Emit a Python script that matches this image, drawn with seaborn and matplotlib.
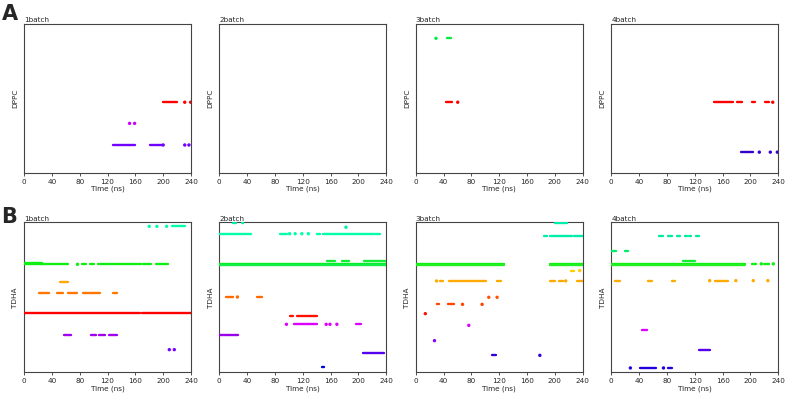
import matplotlib
matplotlib.use("Agg")
import matplotlib.pyplot as plt
import seaborn as sns
import pandas as pd

# ---------------- data ----------------
batches = ["1batch", "2batch", "3batch", "4batch"]
x_ticks = [0, 40, 80, 120, 160, 200, 240]

# each track: residue level (0-1), colour, contact intervals (start, end) in ns
A1_levels = [0.475, 0.333, 0.188]
A1_colors = ["#ff0000", "#cc00ff", "#7000ff"]
A1_spans = [
    [(200, 220), (231, 231), (239.5, 239.5)],
    [(151.7, 151.7), (159, 159)],
    [(128.6, 159.4), (180.5, 198), (200, 200), (231, 231), (237, 237)],
]

A2_levels = []
A2_colors = []
A2_spans = []

A3_levels = [0.904, 0.475]
A3_colors = ["#00ee44", "#ff0000"]
A3_spans = [
    [(29.2, 29.2), (44.6, 50.5)],
    [(43, 52.4), (60.4, 60.4)],
]

A4_levels = [0.475, 0.14]
A4_colors = ["#ff0000", "#3300cc"]
A4_spans = [
    [(148, 175.4), (180, 187.8), (202, 207), (221, 226), (232, 232)],
    [(185.9, 203), (212.7, 212.7), (228.5, 228.5), (238.6, 238.6)],
]

B1_levels = [0.973, 0.726, 0.72, 0.602, 0.527, 0.393, 0.249, 0.151]
B1_colors = ["#00ffaa", "#11ee11", "#11ee11", "#ffaa00", "#ff7700", "#ff0000", "#a000ee", "#7700ff"]
B1_spans = [
    [(180, 180), (191, 191), (205, 205), (212, 232)],
    [(0, 25.4)],
    [(0, 25.4), (25, 63), (76.8, 76.8), (83, 89), (95, 101), (106, 168), (171, 183), (189, 207)],
    [(52, 63)],
    [(21.6, 36), (47, 55.7), (63, 76), (84.5, 109.4), (128, 134)],
    [(0, 167), (169, 240)],
    [(58, 67.7), (96, 103.7), (107.5, 117), (121.5, 133.5)],
    [(208.8, 208.8), (216, 216)],
]

B2_levels = [0.998, 0.967, 0.924, 0.744, 0.725, 0.715, 0.502, 0.378, 0.32, 0.251, 0.127, 0.038]
B2_colors = ["#00eeaa", "#00eeaa", "#00ffaa", "#11ee33", "#00ee22", "#11ee44", "#ff6a00",
             "#ff1100", "#dd00ff", "#9900ee", "#5500ee", "#0000dd"]
B2_spans = [
    [(19, 24), (33.6, 33.6)],
    [(182, 182)],
    [(0, 45), (87, 97), (101, 101), (109, 109), (118.6, 118.6), (128, 128), (140, 144),
     (149, 224), (225.6, 231)],
    [(154.6, 166.6), (176, 185.8), (208, 240)],
    [(0, 240)],
    [(0, 240)],
    [(9.6, 20), (26, 26), (54.7, 61.4)],
    [(102, 106.6), (111, 140)],
    [(96.5, 96.5), (108, 140), (153.6, 153.6), (159, 159), (169, 169), (197, 203.5)],
    [(0, 26.4)],
    [(207, 237)],
    [(147, 151)],
]

B3_levels = [0.998, 0.909, 0.72, 0.714, 0.678, 0.609, 0.5, 0.453, 0.391, 0.313, 0.211, 0.113]
B3_colors = ["#00eeaa", "#00eeaa", "#11ee11", "#22ee22", "#ffcc00", "#ffaa00", "#ff5500",
             "#ff4400", "#ff1100", "#dd00ff", "#8800ff", "#3300dd"]
B3_spans = [
    [(200, 218)],
    [(183.7, 188.4), (193, 225), (227.6, 240)],
    [(0, 126.4), (192.7, 240)],
    [(0, 126.4), (192.7, 240)],
    [(222.8, 227.6), (235.7, 235.7)],
    [(30, 30), (34.8, 39.6), (48, 101), (116.4, 122.6), (192.3, 200), (206, 212),
     (215.6, 215.6), (232, 240)],
    [(105, 105), (117, 117)],
    [(31, 33.4), (46, 55.6), (67.3, 67.3), (95.4, 95.4)],
    [(13.8, 13.8)],
    [(76.3, 76.3)],
    [(27, 27)],
    [(109, 115.5), (178.4, 178.4)],
]

B4_levels = [0.909, 0.809, 0.744, 0.723, 0.717, 0.611, 0.284, 0.147, 0.029]
B4_colors = ["#00ee99", "#00ee66", "#11ee33", "#11ee11", "#22ee22", "#ffaa00", "#dd00ff",
             "#5500ee", "#2200dd"]
B4_spans = [
    [(68.8, 75), (82, 87), (93.8, 98.6), (106, 109), (111, 114.5), (121.7, 125.5)],
    [(0, 6.7), (19, 24)],
    [(102.5, 120.7)],
    [(0, 192.4), (201.5, 207.8), (215.5, 215.5), (220, 226), (232.8, 232.8)],
    [(0, 192.4)],
    [(4.8, 12), (53.4, 59), (87, 91.4), (141.4, 141.4), (149.6, 167.4), (179, 179),
     (204, 204), (225, 225)],
    [(44.7, 51)],
    [(125.5, 142.4)],
    [(27.4, 27.4), (41, 64), (75, 75), (81, 87)],
]

rows = [
    ("DPPC", [(A1_levels, A1_colors, A1_spans), (A2_levels, A2_colors, A2_spans),
              (A3_levels, A3_colors, A3_spans), (A4_levels, A4_colors, A4_spans)]),
    ("TDHA", [(B1_levels, B1_colors, B1_spans), (B2_levels, B2_colors, B2_spans),
              (B3_levels, B3_colors, B3_spans), (B4_levels, B4_colors, B4_spans)]),
]

# ---------------- plot ----------------
sns.set_style("white")
plt.rcParams["font.family"] = ["DejaVu Sans"]

W, H = 789, 398
fig = plt.figure(figsize=(W / 100, H / 100), dpi=100)

lefts = [24, 219.3, 415.7, 611.3]
width = 167
row_box = [(24, 173), (222.3, 372.3)]  # top, bottom in pixels
LW = 1.7
FS = 5.2

for r, (ylab, panels) in enumerate(rows):
    top, bottom = row_box[r]
    for c, (levels, colors, spans) in enumerate(panels):
        ax = fig.add_axes([lefts[c] / W, 1 - bottom / H, width / W, (bottom - top) / H])
        dots = []
        for lev, col, iv in zip(levels, colors, spans):
            for s, e in iv:
                if e - s < 0.8:
                    dots.append({"t": s, "y": lev, "c": col})
                else:
                    ax.hlines(lev, s, e, colors=col, linewidth=LW, capstyle="round",
                              clip_on=True, zorder=3)
        if dots:
            df = pd.DataFrame(dots)
            sns.scatterplot(data=df, x="t", y="y", hue="c", palette={k: k for k in df["c"].unique()},
                            s=6, linewidth=0, legend=False, ax=ax, zorder=4)
        ax.set_xlim(0, 240)
        ax.set_ylim(0, 1)
        ax.set_xticks(x_ticks)
        ax.set_xticklabels([str(t) for t in x_ticks], fontsize=FS)
        ax.set_yticks([])
        ax.set_xlabel("Time (ns)", fontsize=FS, labelpad=1)
        ax.set_ylabel(ylab, fontsize=FS, labelpad=4)
        ax.set_title(batches[c], loc="left", fontsize=FS, pad=1.2)
        ax.tick_params(axis="x", direction="out", length=2.5, width=0.6, pad=1.5,
                       bottom=True, color="#333333")
        for sp in ax.spines.values():
            sp.set_color("#444444")
            sp.set_linewidth(0.8)

fig.text(2 / W, 1 - 4 / H, "A", fontsize=15, fontweight="bold", va="top", ha="left")
fig.text(1 / W, 1 - 207 / H, "B", fontsize=15, fontweight="bold", va="top", ha="left")

fig.savefig("out.png", dpi=100)
